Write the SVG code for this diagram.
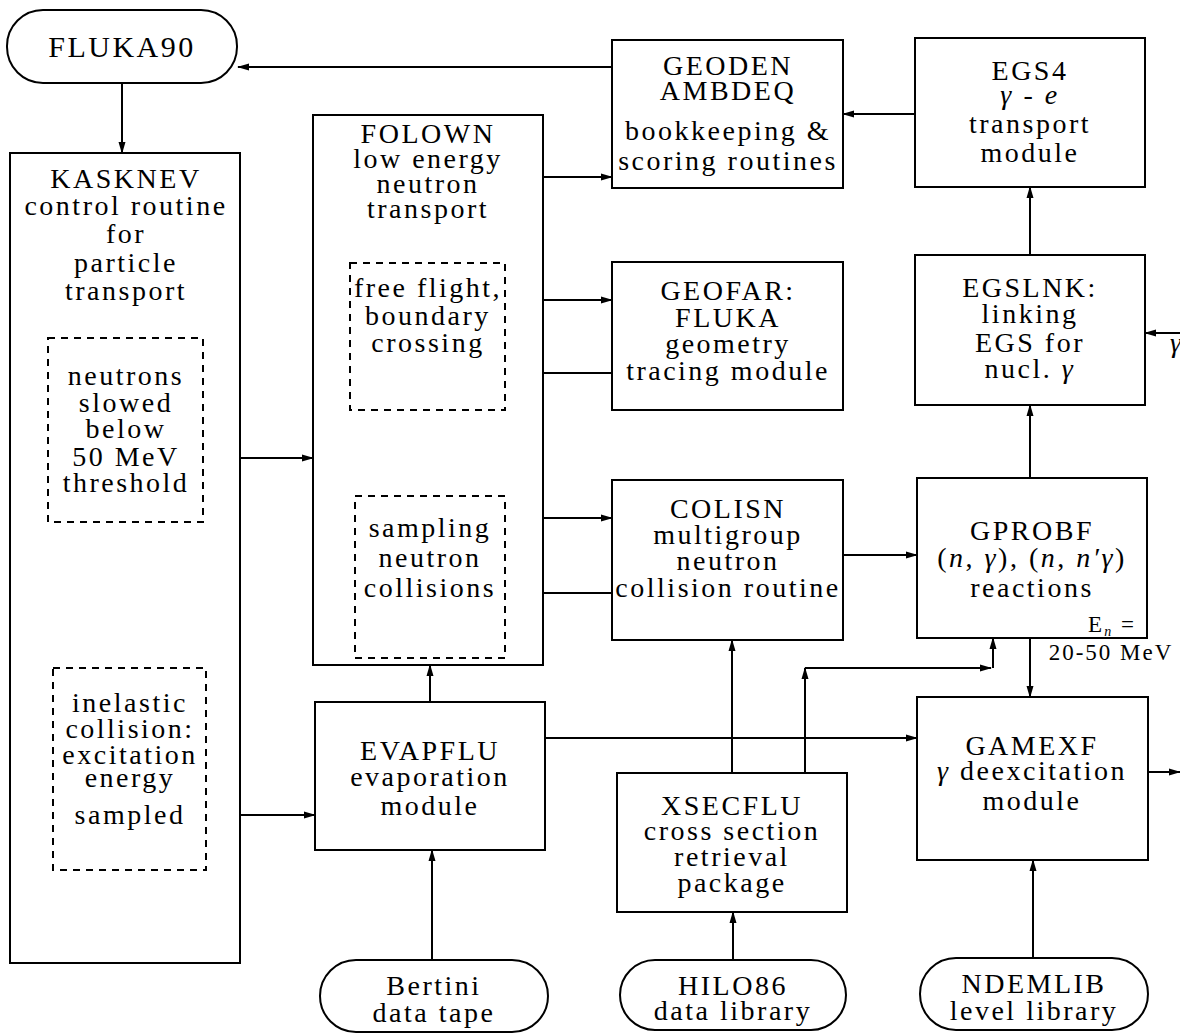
<svg xmlns="http://www.w3.org/2000/svg" width="1180" height="1034" viewBox="0 0 1180 1034">
<style>
.box{fill:#fff;stroke:#000;stroke-width:2}
.dash{fill:none;stroke:#000;stroke-width:2;stroke-dasharray:7 6}
.t{font-family:"Liberation Serif","Times New Roman",serif;font-size:28px;letter-spacing:2.5px;text-anchor:middle;fill:#000}
.s{font-family:"Liberation Serif","Times New Roman",serif;font-size:23px;letter-spacing:2px;text-anchor:middle;fill:#000}
.i{font-style:italic}
.c{fill:none;stroke:#000;stroke-width:2;marker-end:url(#ah)}
</style>
<defs>
<marker id="ah" markerWidth="12" markerHeight="8" refX="11" refY="4" orient="auto" markerUnits="userSpaceOnUse">
<path d="M0,0.5 L12,4 L0,7.5 z" fill="#000"/>
</marker>
</defs>
<rect width="1180" height="1034" fill="#fff"/>

<g id="connectors">
<line class="c" x1="612" y1="67" x2="238" y2="67"/>
<line class="c" x1="122" y1="83" x2="122" y2="153"/>
<line class="c" x1="543" y1="177" x2="612" y2="177"/>
<line class="c" x1="915" y1="114" x2="843" y2="114"/>
<line class="c" x1="1030" y1="255" x2="1030" y2="187"/>
<line class="c" x1="1180" y1="333" x2="1145" y2="333"/>
<line class="c" x1="505" y1="300" x2="612" y2="300"/>
<line class="c" x1="612" y1="373" x2="505" y2="373"/>
<line class="c" x1="203" y1="458" x2="313" y2="458"/>
<line class="c" x1="505" y1="518" x2="612" y2="518"/>
<line class="c" x1="612" y1="593" x2="505" y2="593"/>
<line class="c" x1="843" y1="555" x2="917" y2="555"/>
<line class="c" x1="1030" y1="478" x2="1030" y2="405"/>
<line class="c" x1="1030" y1="638" x2="1030" y2="697"/>
<line class="c" x1="430" y1="702" x2="430" y2="665"/>
<line class="c" x1="206" y1="815" x2="315" y2="815"/>
<line class="c" x1="545" y1="738" x2="917" y2="738"/>
<line class="c" x1="432" y1="960" x2="432" y2="850"/>
<line class="c" x1="732" y1="773" x2="732" y2="640"/>
<line class="c" x1="805" y1="773" x2="805" y2="668"/>
<line class="c" x1="805" y1="668" x2="991" y2="668"/>
<line class="c" x1="993" y1="668" x2="993" y2="638"/>
<line class="c" x1="733" y1="960" x2="733" y2="912"/>
<line class="c" x1="1033" y1="958" x2="1033" y2="860"/>
<line class="c" x1="1148" y1="772" x2="1180" y2="772"/>
</g>

<g id="FLUKA90">
<rect class="box" x="7" y="10" width="230" height="73" rx="36"/>
<text class="t" x="122" y="57" style="font-size:30px">FLUKA90</text>
</g>

<g id="KASKNEV">
<rect class="box" x="10" y="153" width="230" height="810"/>
<text class="t" x="126" y="188">KASKNEV</text>
<text class="t" x="126" y="215">control routine</text>
<text class="t" x="126" y="243">for</text>
<text class="t" x="126" y="272">particle</text>
<text class="t" x="126" y="300">transport</text>
</g>

<g id="neutrons">
<rect class="dash" x="48" y="338" width="155" height="184"/>
<text class="t" x="126" y="385">neutrons</text>
<text class="t" x="126" y="412">slowed</text>
<text class="t" x="126" y="438">below</text>
<text class="t" x="126" y="466">50 MeV</text>
<text class="t" x="126" y="492">threshold</text>
</g>

<g id="inelastic">
<rect class="dash" x="53" y="668" width="153" height="202"/>
<text class="t" x="130" y="712">inelastic</text>
<text class="t" x="130" y="738">collision:</text>
<text class="t" x="130" y="764">excitation</text>
<text class="t" x="130" y="787">energy</text>
<text class="t" x="130" y="824">sampled</text>
</g>

<g id="FOLOWN">
<rect class="box" x="313" y="115" width="230" height="550"/>
<text class="t" x="428" y="143">FOLOWN</text>
<text class="t" x="428" y="168">low energy</text>
<text class="t" x="428" y="193">neutron</text>
<text class="t" x="428" y="218">transport</text>
</g>

<g id="freeflight">
<rect class="dash" x="350" y="263" width="155" height="147"/>
<text class="t" x="428" y="297">free flight,</text>
<text class="t" x="428" y="325">boundary</text>
<text class="t" x="428" y="352">crossing</text>
</g>

<g id="sampling">
<rect class="dash" x="355" y="496" width="150" height="162"/>
<text class="t" x="430" y="537">sampling</text>
<text class="t" x="430" y="567">neutron</text>
<text class="t" x="430" y="597">collisions</text>
</g>

<g id="EVAPFLU">
<rect class="box" x="315" y="702" width="230" height="148"/>
<text class="t" x="430" y="760">EVAPFLU</text>
<text class="t" x="430" y="786">evaporation</text>
<text class="t" x="430" y="815">module</text>
</g>

<g id="GEODEN">
<rect class="box" x="612" y="40" width="231" height="148"/>
<text class="t" x="728" y="75">GEODEN</text>
<text class="t" x="728" y="100">AMBDEQ</text>
<text class="t" x="728" y="140">bookkeeping &amp;</text>
<text class="t" x="728" y="170">scoring routines</text>
</g>

<g id="GEOFAR">
<rect class="box" x="612" y="262" width="231" height="148"/>
<text class="t" x="728" y="300">GEOFAR:</text>
<text class="t" x="728" y="327">FLUKA</text>
<text class="t" x="728" y="353">geometry</text>
<text class="t" x="728" y="380">tracing module</text>
</g>

<g id="COLISN">
<rect class="box" x="612" y="480" width="231" height="160"/>
<text class="t" x="728" y="518">COLISN</text>
<text class="t" x="728" y="544">multigroup</text>
<text class="t" x="728" y="570">neutron</text>
<text class="t" x="728" y="597">collision routine</text>
</g>

<g id="XSECFLU">
<rect class="box" x="617" y="773" width="230" height="139"/>
<text class="t" x="732" y="815">XSECFLU</text>
<text class="t" x="732" y="840">cross section</text>
<text class="t" x="732" y="866">retrieval</text>
<text class="t" x="732" y="892">package</text>
</g>

<g id="EGS4">
<rect class="box" x="915" y="38" width="230" height="149"/>
<text class="t" x="1030" y="80">EGS4</text>
<text class="t i" x="1030" y="104">γ - e</text>
<text class="t" x="1030" y="133">transport</text>
<text class="t" x="1030" y="162">module</text>
</g>

<g id="EGSLNK">
<rect class="box" x="915" y="255" width="230" height="150"/>
<text class="t" x="1030" y="297">EGSLNK:</text>
<text class="t" x="1030" y="323">linking</text>
<text class="t" x="1030" y="352">EGS for</text>
<text class="t" x="1030" y="378">nucl. <tspan class="i">γ</tspan></text>
</g>

<g id="GPROBF">
<rect class="box" x="917" y="478" width="230" height="160"/>
<text class="t" x="1032" y="540">GPROBF</text>
<text class="t" x="1032" y="567">(<tspan class="i">n</tspan>, <tspan class="i">γ</tspan>), (<tspan class="i">n</tspan>, <tspan class="i">n′γ</tspan>)</text>
<text class="t" x="1032" y="597">reactions</text>
</g>

<g id="Elabel">
<text class="s" x="1112" y="632">E<tspan class="i" style="font-size:14px" dy="4">n</tspan><tspan dy="-4"> =</tspan></text>
<text class="s" x="1111" y="660">20-50 MeV</text>
</g>

<g id="GAMEXF">
<rect class="box" x="917" y="697" width="231" height="163"/>
<text class="t" x="1032" y="755">GAMEXF</text>
<text class="t" x="1032" y="780"><tspan class="i">γ</tspan> deexcitation</text>
<text class="t" x="1032" y="810">module</text>
</g>

<g id="edge-gamma">
<text class="t i" x="1170" y="352" style="text-anchor:start">γ</text>
</g>

<g id="Bertini">
<rect class="box" x="320" y="960" width="228" height="72" rx="36"/>
<text class="t" x="434" y="995">Bertini</text>
<text class="t" x="434" y="1022">data tape</text>
</g>

<g id="HILO86">
<rect class="box" x="620" y="960" width="226" height="70" rx="35"/>
<text class="t" x="733" y="995">HILO86</text>
<text class="t" x="733" y="1020">data library</text>
</g>

<g id="NDEMLIB">
<rect class="box" x="920" y="958" width="228" height="72" rx="36"/>
<text class="t" x="1034" y="993">NDEMLIB</text>
<text class="t" x="1034" y="1020">level library</text>
</g>
</svg>
